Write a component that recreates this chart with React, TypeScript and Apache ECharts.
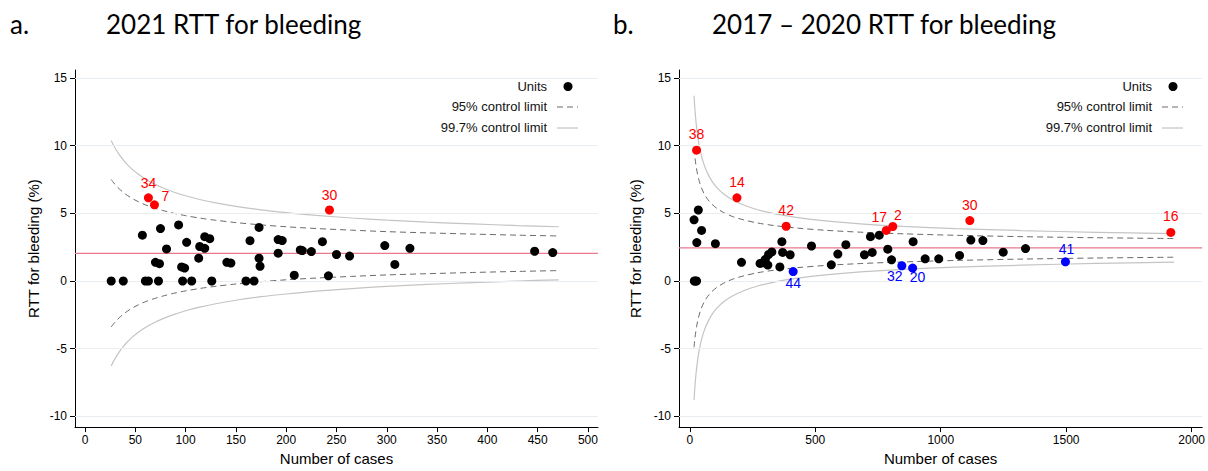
import React, { useEffect, useRef } from "react";
import * as echarts from "echarts";

// ---------- Panel a: 2021 ----------
const leftUnitCases = [26, 38, 60, 63, 73, 97, 106, 126, 160, 168, 57, 75, 93, 81, 70, 74, 101, 96, 99, 119, 124, 114, 119, 113, 141, 145, 173, 164, 173, 174, 192, 196, 192, 208, 214, 216, 225, 236, 242, 250, 263, 298, 308, 323, 447, 465];
const leftUnitRtt = [0, 0, 0, 0, 0, 0, 0, 0, 0, 0, 3.39, 3.88, 4.15, 2.37, 1.38, 1.28, 2.86, 1.04, 0.96, 3.28, 3.13, 2.55, 2.42, 1.69, 1.38, 1.33, 3.96, 2.98, 1.69, 1.09, 3.06, 2.99, 2.06, 0.43, 2.3, 2.25, 2.18, 2.91, 0.38, 1.96, 1.84, 2.62, 1.23, 2.42, 2.2, 2.1];
const leftHighIds = ["34", "7", "30"];
const leftHighCases = [63, 69, 243];
const leftHighRtt = [6.15, 5.63, 5.25];
const leftMean = 2.05;
const leftXRange = [-10, 510];
const leftLimitCases = [26, 28, 31, 34, 38, 42, 47, 53, 60, 68, 77, 88, 100, 115, 130, 150, 175, 200, 230, 265, 300, 340, 385, 430, 471];
const leftUpper95 = [7.5, 7.3, 7.04, 6.81, 6.56, 6.33, 6.1, 5.86, 5.63, 5.42, 5.22, 5.01, 4.83, 4.64, 4.49, 4.32, 4.15, 4.01, 3.88, 3.76, 3.65, 3.56, 3.47, 3.39, 3.33];
const leftLower95 = [-3.4, -3.2, -2.94, -2.71, -2.46, -2.23, -2.0, -1.76, -1.53, -1.32, -1.12, -0.91, -0.73, -0.54, -0.39, -0.22, -0.05, 0.09, 0.22, 0.34, 0.45, 0.54, 0.63, 0.71, 0.77];
const leftUpper997 = [10.39, 10.08, 9.69, 9.34, 8.95, 8.61, 8.25, 7.89, 7.54, 7.2, 6.9, 6.58, 6.3, 6.01, 5.78, 5.52, 5.26, 5.06, 4.85, 4.66, 4.5, 4.35, 4.22, 4.1, 4.01];
const leftLower997 = [-6.29, -5.98, -5.59, -5.24, -4.85, -4.51, -4.15, -3.79, -3.44, -3.1, -2.8, -2.48, -2.2, -1.91, -1.68, -1.42, -1.16, -0.96, -0.75, -0.56, -0.4, -0.25, -0.12, 0.0, 0.09];
const leftXTicks = [0, 50, 100, 150, 200, 250, 300, 350, 400, 450, 500];

// ---------- Panel b: 2017-2020 ----------
const rightUnitCases = [18, 22, 27, 17, 34, 47, 28, 102, 206, 280, 291, 301, 311, 314, 327, 359, 367, 370, 400, 485, 564, 590, 622, 696, 720, 727, 755, 789, 804, 890, 938, 992, 1075, 1120, 1168, 1249, 1338];
const rightUnitRtt = [0, 0, 0, 4.52, 5.25, 3.74, 2.84, 2.76, 1.38, 1.3, 1.35, 1.6, 1.18, 1.96, 2.15, 1.04, 2.91, 2.11, 1.94, 2.59, 1.2, 1.99, 2.69, 1.94, 3.28, 2.11, 3.39, 2.35, 1.57, 2.91, 1.64, 1.64, 1.89, 3.03, 2.99, 2.13, 2.4];
const rightHighIds = ["38", "14", "42", "17", "2", "30", "16"];
const rightHighCases = [27, 188, 384, 783, 809, 1116, 1917];
const rightHighRtt = [9.67, 6.15, 4.05, 3.74, 4.03, 4.47, 3.59];
const rightLowIds = ["44", "32", "20", "41"];
const rightLowCases = [412, 845, 888, 1497];
const rightLowRtt = [0.7, 1.13, 0.96, 1.42];
const rightMean = 2.45;
const rightXRange = [-43, 2042];
const rightLimitCases = [17, 19, 21, 24, 27, 31, 36, 42, 50, 60, 72, 88, 108, 135, 170, 215, 270, 340, 430, 540, 680, 850, 1060, 1320, 1620, 1930];
const rightUpper95 = [9.8, 9.4, 9.06, 8.64, 8.28, 7.89, 7.5, 7.12, 6.73, 6.36, 6.02, 5.68, 5.37, 5.06, 4.77, 4.52, 4.29, 4.09, 3.91, 3.75, 3.61, 3.49, 3.38, 3.28, 3.2, 3.14];
const rightLower95 = [-4.9, -4.5, -4.16, -3.74, -3.38, -2.99, -2.6, -2.22, -1.83, -1.46, -1.12, -0.78, -0.47, -0.16, 0.13, 0.38, 0.61, 0.81, 0.99, 1.15, 1.29, 1.41, 1.52, 1.62, 1.7, 1.76];
const rightUpper997 = [13.7, 13.09, 12.57, 11.92, 11.38, 10.78, 10.18, 9.61, 9.01, 8.44, 7.92, 7.39, 6.91, 6.44, 6.01, 5.62, 5.27, 4.96, 4.69, 4.45, 4.23, 4.04, 3.88, 3.73, 3.6, 3.51];
const rightLower997 = [-8.8, -8.19, -7.67, -7.02, -6.48, -5.88, -5.28, -4.71, -4.11, -3.54, -3.02, -2.49, -2.01, -1.54, -1.11, -0.72, -0.37, -0.06, 0.21, 0.45, 0.67, 0.86, 1.02, 1.17, 1.3, 1.39];
const rightXTicks = [0, 500, 1000, 1500, 2000];

const yTicks = [-10, -5, 0, 5, 10, 15];
const yRange = [-10.8, 15.6];

// ---------- styling ----------
const FONT = "Arial";
const TITLE_FONT = "Lato";
const MEAN_COLOR = "#e8798e";
const labelOffsets: Record<string, number[]> = {
  a7: [11, -9],
  b17: [-7, -13],
  b2: [5, -12],
  b32: [-7, 10],
  b20: [5, 9],
  b41: [1, -13],
};

const zip = (xs: number[], ys: number[]) => xs.map((x, i) => [x, ys[i]]);

function App() {
  const ref = useRef<HTMLDivElement>(null);
  useEffect(() => {
    document.body.style.margin = "0";
    if (!ref.current) return;
    const chart = echarts.init(ref.current, null, { renderer: "svg" });

    const xAxisBase = (gridIndex: number, range: number[], ticks: number[]) => ({
      gridIndex,
      type: "value",
      min: range[0],
      max: range[1],
      axisLine: { show: true, onZero: false, lineStyle: { color: "#000", width: 1 } },
      axisTick: { show: true, length: 5, customValues: ticks, lineStyle: { color: "#000" } },
      axisLabel: {
        customValues: ticks,
        margin: 7,
        fontSize: 12,
        color: "#000",
        fontFamily: FONT,
        formatter: (v: number) => String(v),
      },
      splitLine: { show: false },
      name: "Number of cases",
      nameLocation: "middle",
      nameGap: 23,
      nameTextStyle: { fontSize: 15, color: "#000", fontFamily: FONT },
    });
    const yAxisBase = (gridIndex: number, nameGap: number) => ({
      gridIndex,
      type: "value",
      min: yRange[0],
      max: yRange[1],
      axisLine: { show: true, onZero: false, lineStyle: { color: "#000", width: 1 } },
      axisTick: { show: true, length: 5, customValues: yTicks, lineStyle: { color: "#000" } },
      axisLabel: {
        customValues: yTicks,
        margin: 8,
        fontSize: 12,
        color: "#000",
        fontFamily: FONT,
        formatter: (v: number) => String(v),
      },
      splitLine: { show: false },
      name: "RTT for bleeding (%)",
      nameLocation: "middle",
      nameGap,
      nameTextStyle: { fontSize: 15, color: "#000", fontFamily: FONT },
    });

    const limitLine = (idx: number, cases: number[], vals: number[], kind: "95" | "997", extra: any = {}) => ({
      type: "line",
      xAxisIndex: idx,
      yAxisIndex: idx,
      data: zip(cases, vals),
      showSymbol: false,
      symbol: "none",
      smooth: 0.3,
      silent: true,
      z: 2,
      lineStyle:
        kind === "95"
          ? { color: "#6a6a6a", width: 1, type: [6, 4] }
          : { color: "#c4c4c4", width: 1.2, type: "solid" },
      ...extra,
    });

    const gridMark = () => ({
      silent: true,
      symbol: ["none", "none"],
      label: { show: false },
      lineStyle: { color: "#e8eef1", width: 1, type: "solid" },
      data: yTicks.map((v) => ({ yAxis: v })),
    });

    // horizontal target (mean) line spanning the whole x range
    const meanSeries = (idx: number, range: number[], mean: number) => ({
      type: "line",
      xAxisIndex: idx,
      yAxisIndex: idx,
      data: range.map((x) => [x, mean]),
      showSymbol: false,
      symbol: "none",
      silent: true,
      z: 3,
      itemStyle: { color: MEAN_COLOR },
      lineStyle: { color: MEAN_COLOR, width: 1.2, type: "solid" },
    });

    const unitSeries = (idx: number, cases: number[], vals: number[]) => ({
      type: "scatter",
      xAxisIndex: idx,
      yAxisIndex: idx,
      data: zip(cases, vals),
      symbolSize: 9,
      itemStyle: { color: "#000", opacity: 1 },
      z: 5,
      silent: true,
    });
    const labeledSeries = (
      idx: number,
      panel: string,
      ids: string[],
      cases: number[],
      vals: number[],
      color: string,
      defOffset: number[]
    ) => ({
      type: "scatter",
      xAxisIndex: idx,
      yAxisIndex: idx,
      symbolSize: 9,
      z: 6,
      silent: true,
      itemStyle: { color, opacity: 1 },
      data: cases.map((c, i) => ({
        value: [c, vals[i]],
        name: ids[i],
        label: { offset: labelOffsets[panel + ids[i]] || defOffset },
      })),
      label: {
        show: true,
        position: "inside",
        formatter: (p: any) => p.name,
        color,
        fontSize: 14,
        fontFamily: FONT,
        align: "center",
        verticalAlign: "middle",
      },
    });

    const legend = (textRight: number, symX: number, lineX1: number, lineX2: number) => [
      { type: "text", style: { text: "Units", x: textRight, y: 86, align: "right", verticalAlign: "middle", fontSize: 13, fontFamily: FONT, fill: "#111" } },
      { type: "circle", shape: { cx: symX, cy: 86.5, r: 4.5 }, style: { fill: "#000" } },
      { type: "text", style: { text: "95% control limit", x: textRight, y: 106, align: "right", verticalAlign: "middle", fontSize: 13, fontFamily: FONT, fill: "#111" } },
      { type: "line", shape: { x1: lineX1, y1: 107, x2: lineX2, y2: 107 }, style: { stroke: "#6a6a6a", lineWidth: 1, lineDash: [6, 4] } },
      { type: "text", style: { text: "99.7% control limit", x: textRight, y: 127, align: "right", verticalAlign: "middle", fontSize: 13, fontFamily: FONT, fill: "#111" } },
      { type: "line", shape: { x1: lineX1, y1: 128, x2: lineX2, y2: 128 }, style: { stroke: "#c4c4c4", lineWidth: 1.2 } },
    ];

    const titleText = (text: string, x: number) => ({
      type: "text",
      style: { text, x, y: 11, align: "left", verticalAlign: "top", fontSize: 26, fontFamily: TITLE_FONT, fill: "#000" },
    });

    chart.setOption({
      animation: false,
      backgroundColor: "#fff",
      grid: [
        { left: 75, top: 70, width: 523, height: 362, containLabel: false },
        { left: 679, top: 70, width: 524, height: 362, containLabel: false },
      ],
      xAxis: [xAxisBase(0, leftXRange, leftXTicks), xAxisBase(1, rightXRange, rightXTicks)],
      yAxis: [yAxisBase(0, 34), yAxisBase(1, 36)],
      series: [
        limitLine(0, leftLimitCases, leftUpper997, "997", { markLine: gridMark(), z: 1 }),
        limitLine(0, leftLimitCases, leftLower997, "997"),
        limitLine(0, leftLimitCases, leftUpper95, "95"),
        limitLine(0, leftLimitCases, leftLower95, "95"),
        meanSeries(0, leftXRange, leftMean),
        unitSeries(0, leftUnitCases, leftUnitRtt),
        labeledSeries(0, "a", leftHighIds, leftHighCases, leftHighRtt, "#ff0000", [0, -15]),

        limitLine(1, rightLimitCases, rightUpper997, "997", { markLine: gridMark(), z: 1 }),
        limitLine(1, rightLimitCases, rightLower997, "997"),
        limitLine(1, rightLimitCases, rightUpper95, "95"),
        limitLine(1, rightLimitCases, rightLower95, "95"),
        meanSeries(1, rightXRange, rightMean),
        unitSeries(1, rightUnitCases, rightUnitRtt),
        labeledSeries(1, "b", rightHighIds, rightHighCases, rightHighRtt, "#ff0000", [0, -16]),
        labeledSeries(1, "b", rightLowIds, rightLowCases, rightLowRtt, "#0000ff", [0, 11]),
      ],
      graphic: [
        titleText("a.", 10),
        titleText("2021 RTT for bleeding", 106),
        titleText("b.", 613),
        titleText("2017 \u2013 2020 RTT for bleeding", 712),
        ...legend(547, 568, 557, 578),
        ...legend(1152, 1173, 1162, 1183),
      ],
    });
    return () => chart.dispose();
  }, []);
  return <div ref={ref} style={{ width: 1208, height: 471 }} />;
}

export default App;
